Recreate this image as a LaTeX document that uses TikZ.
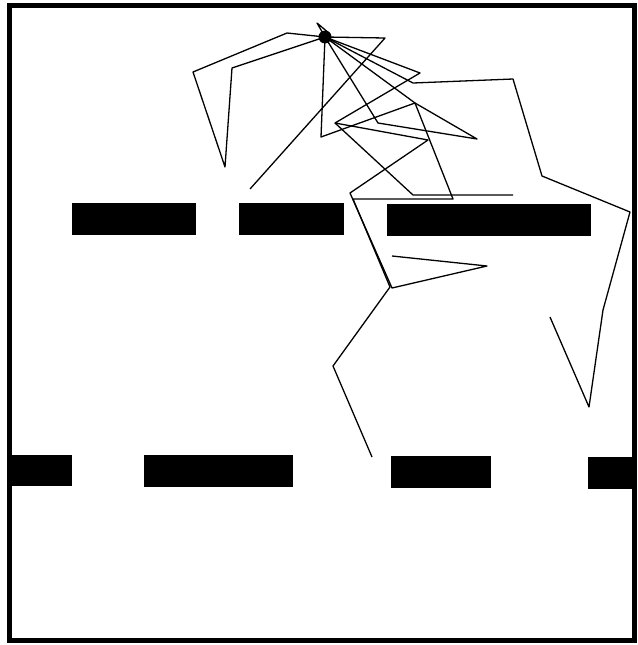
\documentclass[tikz,border=0pt]{standalone}
\usepackage{tikz}

\begin{document}
\begin{tikzpicture}[x=1pt, y=-1pt,
  wall/.style={fill=black, draw=none},
  border/.style={draw=black, line width=5pt},
  walk/.style={draw=black, line width=1.3pt, line join=round},
  hub/.style={circle, fill=black, inner sep=0pt, minimum size=13pt}
]
\useasboundingbox (0,0) rectangle (637,645);

\draw[border] (9,5) rectangle (634,640);

% upper row of walls
\fill[wall] (72,203) rectangle (196,235);
\fill[wall] (239,203) rectangle (344,235);
\fill[wall] (387,204) rectangle (591,236);

% lower row of walls
\fill[wall] (8,455) rectangle (72,486);
\fill[wall] (144,455) rectangle (293,487);
\fill[wall] (391,456) rectangle (491,488);
\fill[wall] (588,457) rectangle (634,489);

\node[hub] (start) at (325,37) {};

% walks from the start point
\draw[walk] (start.center) -- (287,33) -- (193,72) -- (225,167) -- (232,68) -- (start.center);
\draw[walk] (start.center) -- (317,23) -- (330,34);
\draw[walk] (start.center) -- (385,38) -- (250,189);
\draw[walk] (start.center) -- (420,73) -- (335,123) -- (428,140) -- (350,193)
  -- (392,288) -- (487,266) -- (392,256);
\draw[walk] (335,123) -- (413,195) -- (513,195);
\draw[walk] (start.center) -- (413,83) -- (513,79) -- (542,176) -- (630,212)
  -- (603,310) -- (589,407) -- (550,317);
\draw[walk] (start.center) -- (378,123) -- (477,139) -- (415,103) -- (start.center);
\draw[walk] (start.center) -- (321,137) -- (415,103) -- (453,199) -- (353,199)
  -- (390,287) -- (333,366) -- (372,457);

\end{tikzpicture}
\end{document}
